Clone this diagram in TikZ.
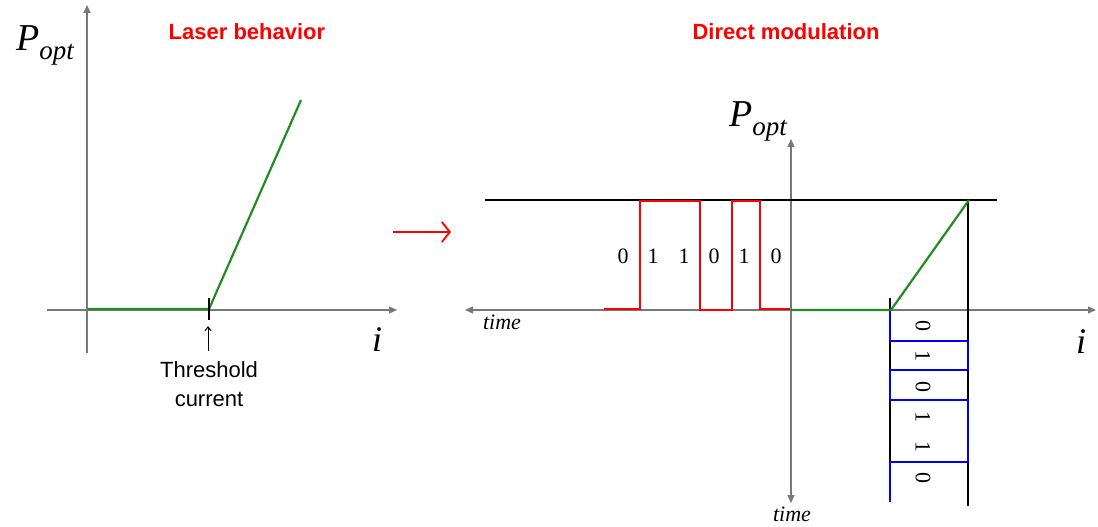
\documentclass[tikz,border=0pt]{standalone}
\usepackage{fontspec}
\setmainfont{Liberation Serif}
\setsansfont{Liberation Sans}
\usetikzlibrary{arrows.meta}
\definecolor{LaserGreen}{RGB}{34,139,34}
\definecolor{AxisGray}{RGB}{120,120,120}
\newcommand{\poptlabel}{{\fontsize{38}{40}\selectfont\itshape P}\raisebox{-9pt}{\fontsize{27}{30}\selectfont\itshape opt}}

\begin{document}
\begin{tikzpicture}[x=1pt,y=-1pt,>={Triangle[length=8pt,width=7pt]}]
  \tikzset{
    axis/.style={draw=AxisGray,line width=1.3pt},
    guide/.style={draw=black,line width=1.2pt},
    curve/.style={draw=LaserGreen,line width=2.2pt},
    redbits/.style={draw=red,line width=1.4pt},
    bluebits/.style={draw=blue,line width=1.4pt},
    title/.style={text=red,font=\sffamily\bfseries\fontsize{22}{26}\selectfont},
    axlabel/.style={font=\itshape\fontsize{36}{40}\selectfont},
    timelabel/.style={font=\itshape\fontsize{22}{26}\selectfont},
    bit/.style={font=\fontsize{22}{26}\selectfont,inner sep=0pt}
  }
  \useasboundingbox (0,0) rectangle (1098,527);

  % laser behavior
  \coordinate (lyb) at (87,353);
  \coordinate (lyt) at (87,5);
  \coordinate (lxl) at (47,310);
  \coordinate (lxr) at (397,310);
  \coordinate (lo) at (88,309);
  \coordinate (lth) at (209,309);
  \coordinate (lend) at (301,100);
  \draw[axis,->] (lyb) -- (lyt);
  \draw[axis,->] (lxl) -- (lxr);
  \draw[curve] (lo) -- (lth) -- (lend);
  \draw[black,line width=1.2pt] (209,298) -- (209,320);
  \node[title] (t1) at (247,32) {Laser behavior};
  \node (p1) at (45,45) {\poptlabel};
  \node[axlabel] (i1) at (377,340) {i};
  \node[font=\sffamily\fontsize{22}{29}\selectfont,align=center] (thr) at (209,384) {Threshold\\current};
  \coordinate (thrfoot) at (208,351);
  \coordinate (thrtip) at (208,326);
  \draw[black,line width=1pt,-{Straight Barb[length=4pt,width=6pt]}] (thrfoot) -- (thrtip);

  % arrow between
  \coordinate (ma) at (393,232);
  \coordinate (mb) at (451,232);
  \draw[red,line width=1.8pt,-{Straight Barb[length=8pt,width=20pt]}] (ma) -- (mb);

  % direct modulation
  \coordinate (rxl) at (465,310);
  \coordinate (rxr) at (1096,310);
  \coordinate (ryt) at (791,139);
  \coordinate (ryb) at (791,503);
  \draw[axis,<->] (rxl) -- (rxr);
  \draw[axis,<->] (ryb) -- (ryt);
  \draw[guide] (485,200) -- (997,200);
  \draw[guide] (968,200) -- (968,506);
  \draw[guide] (890,298) -- (890,502);
  \draw[redbits] (604,309) -- (640,309) -- (640,201) -- (700,201) -- (700,310)
    -- (732,310) -- (732,201) -- (760,201) -- (760,309) -- (790,309);
  \draw[bluebits] (890,310) -- (890,341) -- (968,341) -- (968,370) -- (890,370)
    -- (890,400) -- (968,400) -- (968,462) -- (890,462) -- (890,502);
  \draw[curve] (791,310) -- (891,310) -- (969,200);
  \foreach \x/\b in {623/0,653/1,684/1,714/0,744/1,776/0}
    \node[bit] (hb\x) at (\x,256) {\b};
  \foreach \y/\b in {326/0,356/1,387/0,417/1,447/1,478/0}
    \node[bit,rotate=-90] (vb\y) at (923,\y) {\b};
  \node[title] (t2) at (786,32) {Direct modulation};
  \node (p2) at (758,121) {\poptlabel};
  \node[axlabel] (i2) at (1081,342) {i};
  \node[timelabel] (tm1) at (502,322) {time};
  \node[timelabel] (tm2) at (792,514) {time};
\end{tikzpicture}
\end{document}
